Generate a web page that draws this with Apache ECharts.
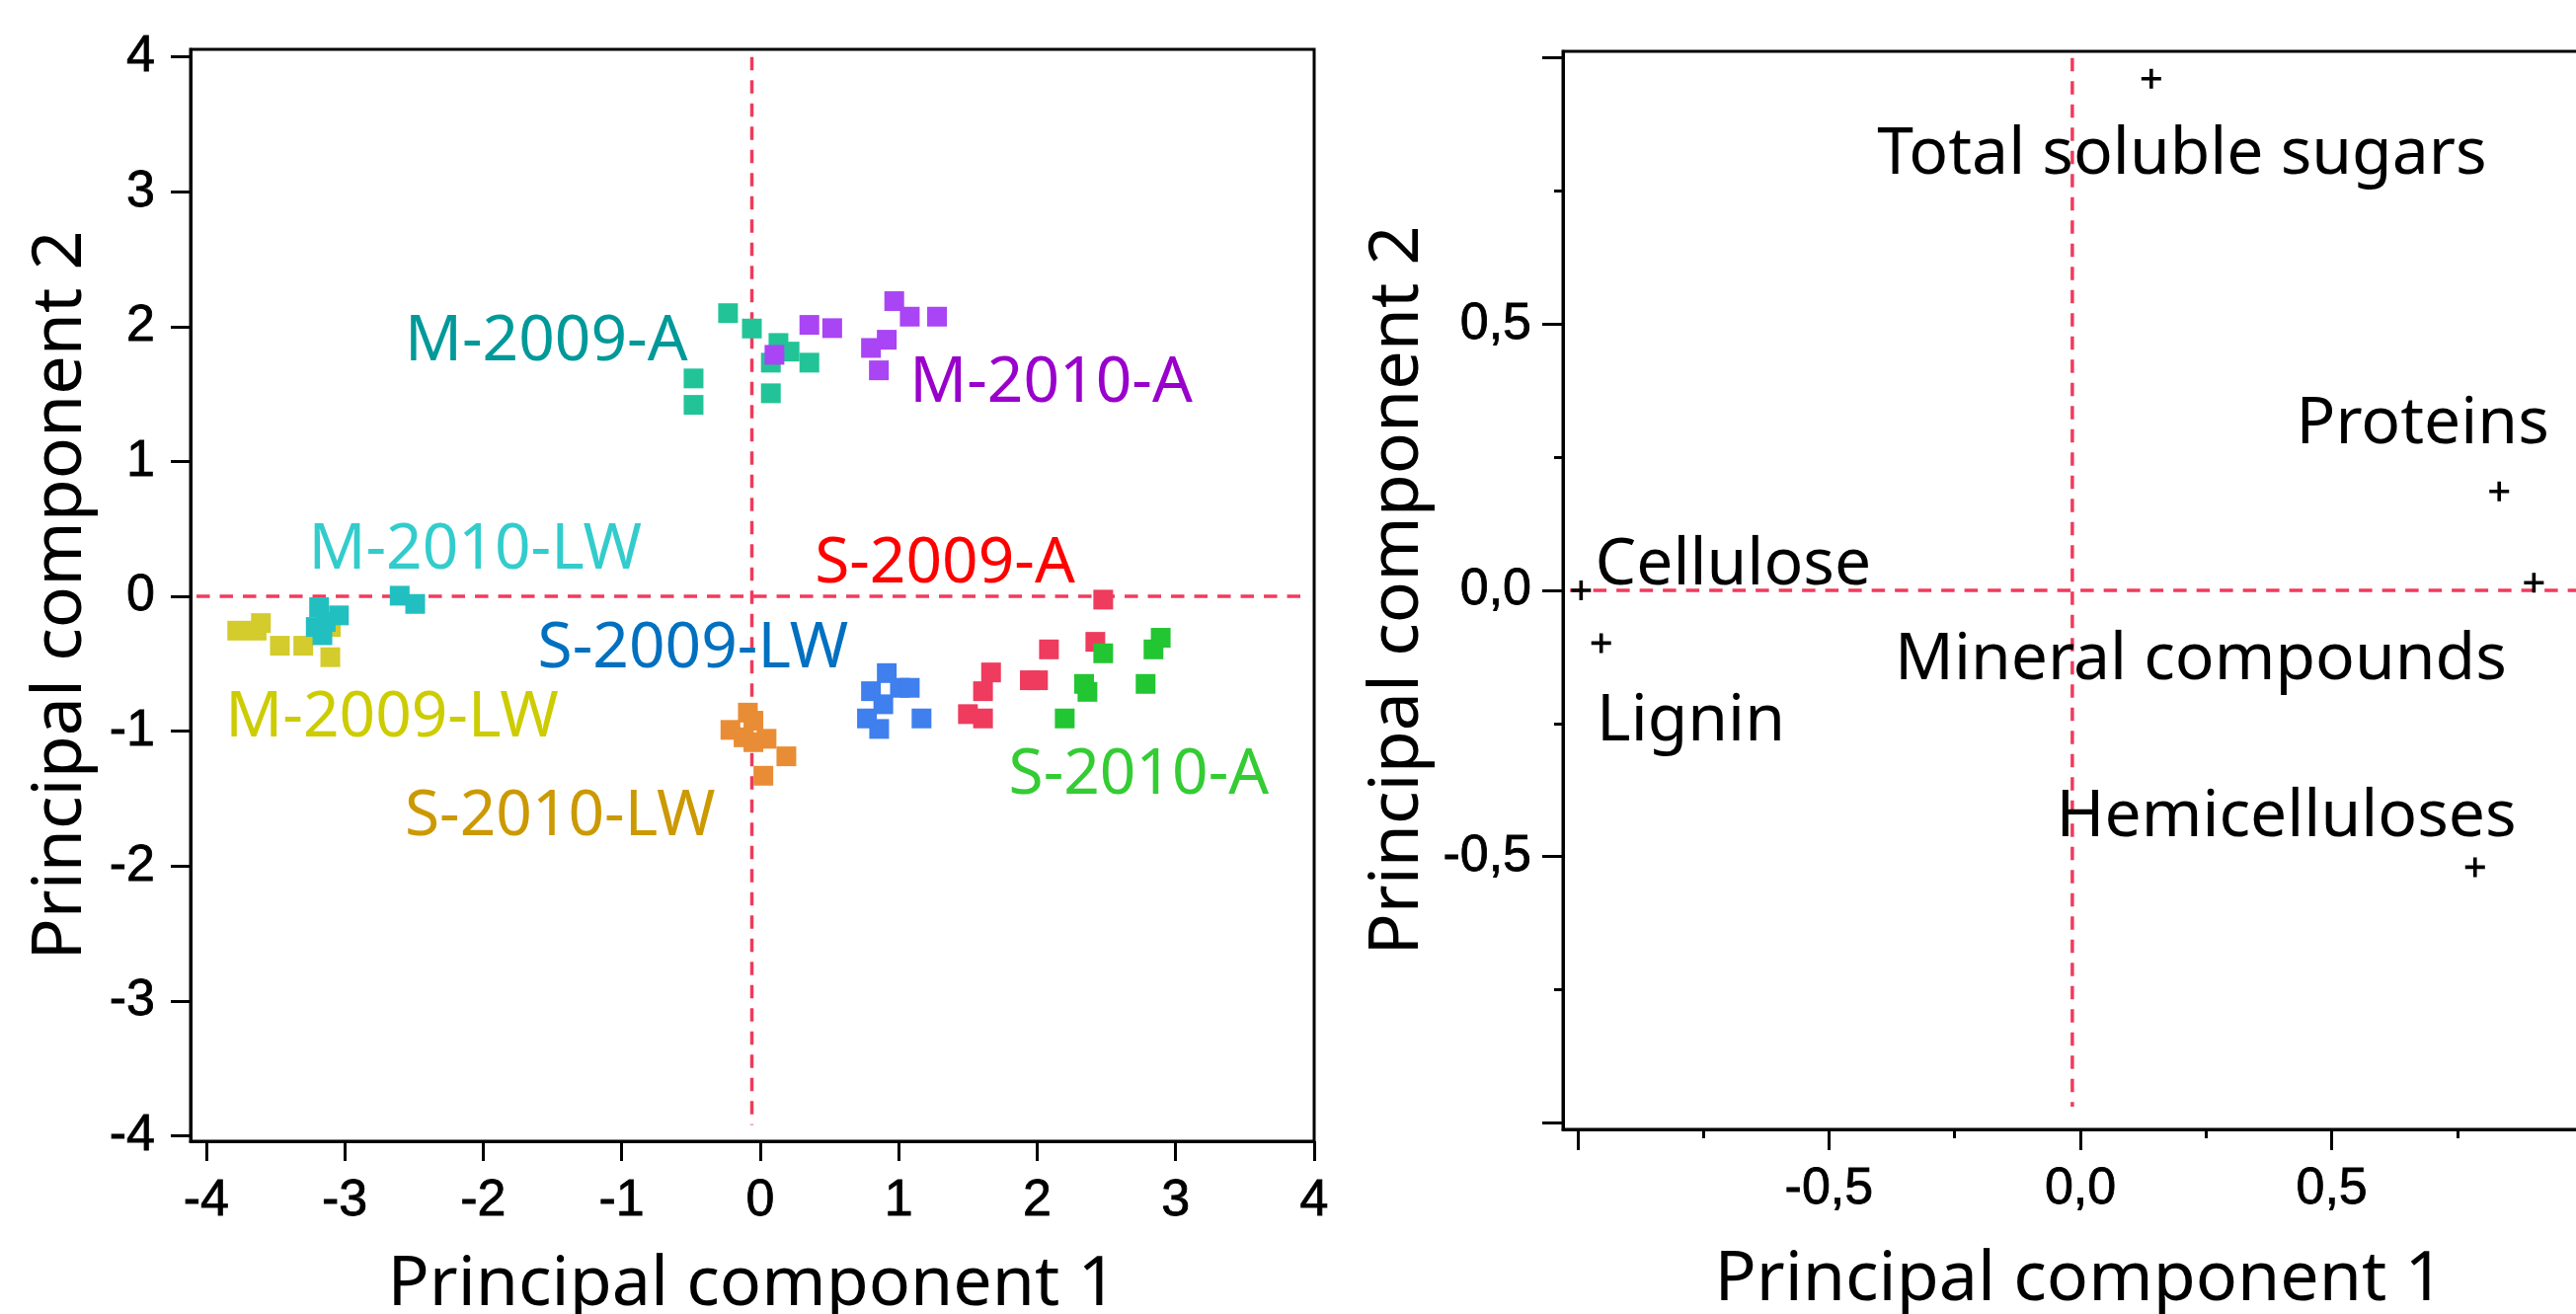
<!DOCTYPE html>
<html>
<head>
<meta charset="utf-8">
<script src="https://cdn.jsdelivr.net/npm/echarts@6/dist/echarts.min.js"></script>
<style>
html,body{margin:0;padding:0;background:#ffffff;}
#c{width:2609px;height:1331px;}
</style>
</head>
<body>
<div id="c"></div>
<script>
// ---------- Left panel: sample scores (PC1, PC2) ----------
const groupNames = ['M-2009-A','M-2010-A','M-2009-LW','M-2010-LW','S-2009-A','S-2010-A','S-2009-LW','S-2010-LW'];
const m2009A  = [[-0.232,2.10],[-0.06,1.986],[0.132,1.879],[0.212,1.815],[0.077,1.733],[0.355,1.733],[0.077,1.506],[-0.481,1.616],[-0.481,1.42]];
const m2010A  = [[0.103,1.791],[0.355,2.013],[0.52,1.989],[0.968,2.189],[1.08,2.074],[1.277,2.074],[0.914,1.903],[0.80,1.842],[0.857,1.676]];
const m2009LW = [[-3.776,-0.254],[-3.636,-0.254],[-3.605,-0.198],[-3.468,-0.366],[-3.299,-0.366],[-3.104,-0.451],[-3.10,-0.227]];
const m2010LW = [[-2.603,0.005],[-2.491,-0.056],[-3.185,-0.08],[-3.042,-0.141],[-3.209,-0.227],[-3.161,-0.288],[-3.137,-0.19]];
const s2009A  = [[2.477,-0.024],[2.42,-0.337],[2.085,-0.393],[1.667,-0.564],[1.609,-0.703],[1.947,-0.622],[2.006,-0.622],[1.50,-0.873],[1.609,-0.905]];
const s2010A  = [[2.477,-0.422],[2.892,-0.307],[2.84,-0.393],[2.783,-0.649],[2.339,-0.649],[2.363,-0.708],[2.199,-0.905]];
const s2009LW = [[0.914,-0.569],[0.80,-0.703],[1.009,-0.678],[1.08,-0.678],[0.889,-0.80],[0.771,-0.905],[0.859,-0.983],[1.165,-0.905]];
const s2010LW = [[-0.089,-0.862],[-0.049,-0.922],[-0.215,-0.99],[-0.12,-1.045],[0.046,-1.056],[-0.049,-1.081],[0.189,-1.186],[0.023,-1.33]];
const groupData = [m2009A, m2010A, m2009LW, m2010LW, s2009A, s2010A, s2009LW, s2010LW];
const pointColors = ['#22C497','#A945F4','#D4CB2C','#22BFC1','#EE3B5E','#22C532','#3F7FEE','#E88D35'];
const labelColors = ['#009999','#9900CC','#CCCC00','#33CCCC','#FF0000','#33CC33','#0070C0','#CC9900'];
// label anchors (left edge, text middle) in data units
const groupLabelPos = [[-2.57,1.918],[1.075,1.614],[-3.865,-0.867],[-3.265,0.373],[0.39,0.273],[1.79,-1.296],[-1.61,-0.357],[-2.57,-1.60]];
const leftTicks = [-4,-3,-2,-1,0,1,2,3,4];
const leftRefV = [[-0.06,4.0],[-0.06,-3.92]];
const leftRefH = [[-4.07,0],[3.93,0]];

// ---------- Right panel: variable loadings ----------
const varNames = ['Total soluble sugars','Proteins','Mineral compounds','Hemicelluloses','Cellulose','Lignin'];
const varLoadings = [[0.141,0.961],[0.833,0.186],[0.902,0.0145],[0.785,-0.52],[-0.993,0.0],[-0.953,-0.099]];
const varLabelPos = [[-0.405,0.827],[0.428,0.32],[-0.37,-0.123],[-0.049,-0.417],[-0.966,0.055],[-0.963,-0.238]];
const rightMajorTicks = [-1,-0.5,0,0.5,1];
const rightMinorTicks = [-0.75,-0.25,0.25,0.75];
const rightTickLabels = [-0.5,0,0.5];
const rightRefV = [[-0.016,1.0],[-0.016,-0.97]];
const rightRefH = [[-1.015,0],[1.03,0]];

const TXT = 'Noto Sans';
const TICKF = 'Liberation Sans';
const REF = {color:'#EF3B5C', width:3.5, type:[13.5,10]};
const plusPath = 'path://M8.2,0h3.6v8.2h8.2v3.6h-8.2v8.2h-3.6v-8.2h-8.2v-3.6h8.2z';
const commaFmt = v => v.toFixed(1).replace('.', ',');

function valAxis(o){
  return Object.assign({
    type:'value',
    axisLine:{show:true,onZero:false,lineStyle:{color:'#000',width:3}},
    splitLine:{show:false},
    nameTextStyle:{fontFamily:TXT,fontSize:70,color:'#000'},
    nameLocation:'middle'
  }, o);
}
function tickStyle(len, vals){ return {show:true,inside:false,length:len,customValues:vals,lineStyle:{color:'#000',width:3}}; }
function lblStyle(vals, margin, fmt){
  const s = {show:true,customValues:vals,fontFamily:TICKF,fontSize:52,color:'#000',margin:margin,
    textBorderColor:'#000',textBorderWidth:0.8};
  if (fmt) s.formatter = fmt;
  return s;
}

const series = [];
// reference dashed lines
[[leftRefV,0],[leftRefH,0],[rightRefV,1],[rightRefH,1]].forEach(([d,g])=>{
  series.push({type:'line',xAxisIndex:g===0?0:1,yAxisIndex:g===0?0:1,data:d,symbol:'none',lineStyle:REF,z:1,silent:true});
});
// sample groups
groupData.forEach((d,i)=>{
  series.push({type:'scatter',name:groupNames[i],xAxisIndex:0,yAxisIndex:0,data:d,symbol:'rect',symbolSize:20,
    itemStyle:{color:pointColors[i],opacity:1},z:3+i,silent:true});
});
// group labels
series.push({type:'scatter',xAxisIndex:0,yAxisIndex:0,symbolSize:1,itemStyle:{color:'rgba(0,0,0,0)',opacity:1},z:20,silent:true,
  data:groupNames.map((n,i)=>({name:n,value:groupLabelPos[i],label:{color:labelColors[i]}})),
  label:{show:true,position:'right',distance:0,formatter:p=>p.name,fontFamily:TXT,fontSize:64,offset:[0,5],opacity:1}});
// variable loadings
series.push({type:'scatter',xAxisIndex:1,yAxisIndex:1,data:varLoadings,symbol:plusPath,symbolSize:20,
  itemStyle:{color:'#000',opacity:1},z:5,silent:true});
series.push({type:'scatter',xAxisIndex:1,yAxisIndex:1,symbolSize:1,itemStyle:{color:'rgba(0,0,0,0)',opacity:1},z:20,silent:true,
  data:varNames.map((n,i)=>({name:n,value:varLabelPos[i],label:{color:'#000'}})),
  label:{show:true,position:'right',distance:0,formatter:p=>p.name,fontFamily:TXT,fontSize:66,color:'#000',offset:[0,5],opacity:1}});

const option = {
  animation:false,
  backgroundColor:'#ffffff',
  grid:[
    {left:193,top:50,width:1138,height:1106,show:true,borderColor:'#000',borderWidth:3,backgroundColor:'#fff',containLabel:false,outerBoundsMode:'none'},
    {left:1583,top:52,width:1046,height:1092,show:true,borderColor:'#000',borderWidth:3,backgroundColor:'#fff',containLabel:false,outerBoundsMode:'none'}
  ],
  xAxis:[
    valAxis({gridIndex:0,min:-4.113,max:4.0,position:'bottom',axisTick:tickStyle(20,leftTicks),axisLabel:lblStyle(leftTicks,35,v=>String(v)),
      name:'Principal component 1',nameGap:111}),
    valAxis({gridIndex:1,min:-1.029,max:1.025,position:'bottom',axisTick:tickStyle(21,rightMajorTicks),axisLabel:lblStyle(rightTickLabels,35,commaFmt),
      name:'Principal component 1',nameGap:118}),
    valAxis({gridIndex:1,min:-1.029,max:1.025,position:'bottom',axisLine:{show:false,onZero:false},axisTick:tickStyle(9,rightMinorTicks),axisLabel:{show:false}})
  ],
  yAxis:[
    valAxis({gridIndex:0,min:-4.04,max:4.056,position:'left',axisTick:tickStyle(20,leftTicks),axisLabel:lblStyle(leftTicks,36,v=>String(v)),
      name:'Principal component 2',nameGap:96}),
    valAxis({gridIndex:1,min:-1.0125,max:1.0125,position:'left',axisTick:tickStyle(21,rightMajorTicks),axisLabel:lblStyle(rightTickLabels,32,commaFmt),
      name:'Principal component 2',nameGap:132}),
    valAxis({gridIndex:1,min:-1.0125,max:1.0125,position:'left',axisLine:{show:false,onZero:false},axisTick:tickStyle(9,rightMinorTicks),axisLabel:{show:false}})
  ],
  series:series
};
const chart = echarts.init(document.getElementById('c'), null, {renderer:'canvas',width:2609,height:1331});
chart.setOption(option);
</script>
</body>
</html>
